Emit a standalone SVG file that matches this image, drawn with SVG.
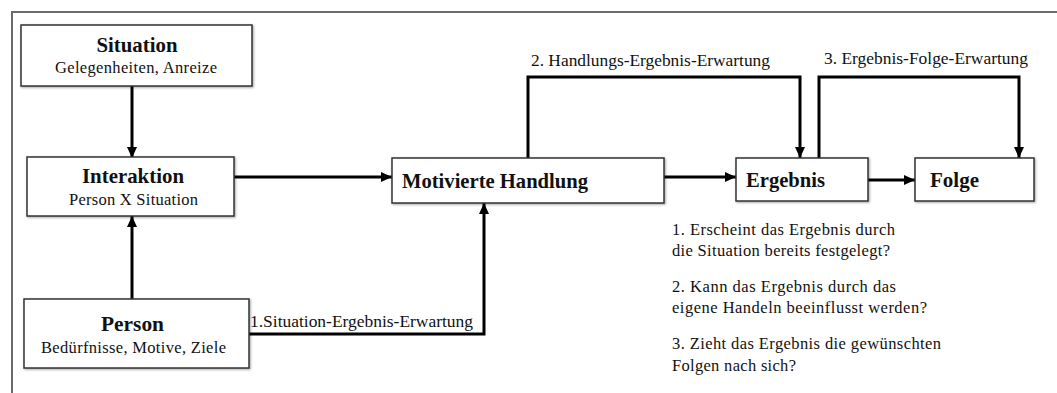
<svg xmlns="http://www.w3.org/2000/svg" width="1057" height="393" viewBox="0 0 1057 393" font-family="'Liberation Serif', 'DejaVu Serif', serif">
  <style>
    .box { fill: #ffffff; stroke: #333333; stroke-width: 1.5; filter: url(#sh); }
    .conn { fill: none; stroke: #000000; stroke-width: 3; stroke-linejoin: miter; marker-end: url(#arr); }
    .title { font-weight: bold; font-size: 21px; fill: #111111; }
    .sub { font-size: 16.5px; fill: #111111; }
    .lbl { font-size: 17px; fill: #111111; }
    .q { font-size: 16.5px; fill: #111111; }
  </style>
  <defs>
    <marker id="arr" markerUnits="userSpaceOnUse" markerWidth="11" markerHeight="10" refX="11" refY="5" orient="auto">
      <path d="M0,0 L11,5 L0,10 z" fill="#000000"/>
    </marker>
    <filter id="sh" x="-5%" y="-5%" width="115%" height="130%">
      <feDropShadow dx="1" dy="1" stdDeviation="0.8" flood-color="#000000" flood-opacity="0.35"/>
    </filter>
  </defs>

  <rect width="1057" height="393" fill="#ffffff"/>
  <path id="frame" d="M12,393 V12 H1057" fill="none" stroke="#6b6b6b" stroke-width="2"/>

  <g id="connectors">
    <path class="conn" d="M132,86 V158"/>
    <path class="conn" d="M132,299 V216"/>
    <path class="conn" d="M234,177 H392"/>
    <path class="conn" d="M249,334 H484 V203"/>
    <path class="conn" d="M664,177 H736"/>
    <path class="conn" d="M868,180 H915"/>
    <path class="conn" d="M528,158 V77 H800 V158"/>
    <path class="conn" d="M819,158 V77 H1019 V158"/>
    <text class="lbl" font-family="Liberation Serif" x="250" y="327" textLength="223" lengthAdjust="spacingAndGlyphs">1.Situation-Ergebnis-Erwartung</text>
    <text class="lbl" font-family="Liberation Serif" x="531" y="66" textLength="239" lengthAdjust="spacingAndGlyphs">2. Handlungs-Ergebnis-Erwartung</text>
    <text class="lbl" font-family="Liberation Serif" x="824" y="64" textLength="204" lengthAdjust="spacingAndGlyphs">3. Ergebnis-Folge-Erwartung</text>
  </g>

  <g id="situation" font-family="Liberation Serif">
    <rect class="box" x="21" y="25" width="231" height="61"/>
    <text class="title" x="137" y="52" text-anchor="middle" textLength="81" lengthAdjust="spacingAndGlyphs">Situation</text>
    <text class="sub" x="136" y="73" text-anchor="middle" textLength="162" lengthAdjust="spacing">Gelegenheiten, Anreize</text>
  </g>

  <g id="interaktion" font-family="Liberation Serif">
    <rect class="box" x="27" y="157" width="207" height="59"/>
    <text class="title" x="133" y="183" text-anchor="middle" textLength="102" lengthAdjust="spacingAndGlyphs">Interaktion</text>
    <text class="sub" x="133.5" y="205" text-anchor="middle" textLength="129" lengthAdjust="spacing">Person X Situation</text>
  </g>

  <g id="person" font-family="Liberation Serif">
    <rect class="box" x="24" y="299" width="225" height="69"/>
    <text class="title" x="132.5" y="331" text-anchor="middle" textLength="63" lengthAdjust="spacingAndGlyphs">Person</text>
    <text class="sub" x="133.5" y="353" text-anchor="middle" textLength="185" lengthAdjust="spacing">Bedürfnisse, Motive, Ziele</text>
  </g>

  <g id="motivierte-handlung" font-family="Liberation Serif">
    <rect class="box" x="392" y="158" width="272" height="45"/>
    <text class="title" x="402" y="188" textLength="186" lengthAdjust="spacingAndGlyphs">Motivierte Handlung</text>
  </g>

  <g id="ergebnis" font-family="Liberation Serif">
    <rect class="box" x="736" y="158" width="132" height="43"/>
    <text class="title" x="746" y="187" textLength="79" lengthAdjust="spacingAndGlyphs">Ergebnis</text>
  </g>

  <g id="folge" font-family="Liberation Serif">
    <rect class="box" x="915" y="158" width="119" height="43"/>
    <text class="title" x="930" y="187" textLength="49" lengthAdjust="spacingAndGlyphs">Folge</text>
  </g>

  <g id="fragen" font-family="Liberation Serif">
    <text class="q" x="672" y="235" textLength="223" lengthAdjust="spacing">1. Erscheint das Ergebnis durch</text>
    <text class="q" x="672" y="256" textLength="218" lengthAdjust="spacing">die Situation bereits festgelegt?</text>
    <text class="q" x="672" y="292" textLength="224" lengthAdjust="spacing">2. Kann das Ergebnis durch das</text>
    <text class="q" x="672" y="313" textLength="255" lengthAdjust="spacing">eigene Handeln beeinflusst werden?</text>
    <text class="q" x="672" y="349" textLength="269" lengthAdjust="spacing">3. Zieht das Ergebnis die gewünschten</text>
    <text class="q" x="672" y="371" textLength="124" lengthAdjust="spacing">Folgen nach sich?</text>
  </g>
</svg>
